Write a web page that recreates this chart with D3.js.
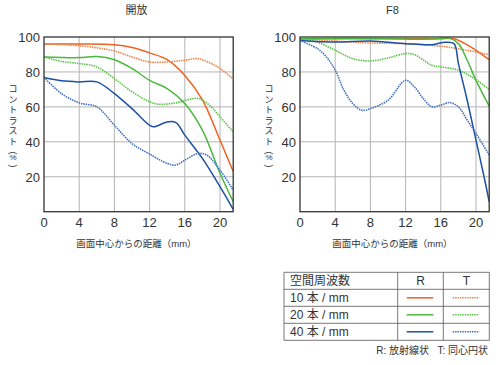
<!DOCTYPE html>
<html>
<head>
<meta charset="utf-8">
<script src="https://cdn.jsdelivr.net/npm/d3@7"></script>
<style>
  body { margin: 0; background: #fff; }
  text { font-family: "Liberation Sans", Arial, "Noto Sans CJK JP", sans-serif; fill: #333; }
</style>
</head>
<body>
<div id="chart"></div>
<script>
// distance from image centre (mm) and contrast (%)
const xTicks = [0, 4, 8, 12, 16, 20];
const yTicks = [20, 40, 60, 80, 100];

// 開放 (wide open)
const open10R = [[0,96],[4,96],[8,95.6],[10,94],[12,90.9],[14,87],[16,78],[18,64],[20,41],[21.5,23]];
const open10T = [[0,96],[4,95],[8,92],[10,88.6],[12,85.7],[14,85.7],[16,86.7],[17.5,87.6],[19,84.8],[20,82],[21.5,76]];
const open20R = [[0,88.6],[4,88.2],[6,88.8],[8,87],[10,82],[12,75.2],[14,70.5],[16,62],[18,46.7],[20,22],[21.5,5.7]];
const open20T = [[0,88.6],[2,86],[4,84.8],[6,82.9],[8,76.2],[10,68.6],[12,62.9],[13,61.5],[15,62.3],[17.5,64.8],[19,60],[20,54.3],[21.5,45.7]];
const open40R = [[0,76.8],[2,74.9],[4,74.3],[6,74.3],[8,67.6],[10,59],[12,49.5],[12.5,48.6],[14,51.4],[15,51],[16,43.8],[18,30.5],[20,14.3],[21.5,1.3]];
const open40T = [[0,76.8],[2,67.6],[4,62.3],[6,60],[8,49.5],[10,39],[12,33],[14,27.6],[15,26.7],[16,29.5],[17.5,33.3],[18.5,32.4],[20,23.8],[21.5,12.4]];

// F8
const f8_10R = [[0,99],[4,99.2],[8,99.2],[12,99],[16,99],[17.5,99],[19,95.5],[20,92.4],[21.5,87]];
const f8_10T = [[0,99],[4,97.7],[8,96.6],[12,96.2],[16,94.7],[18,93.3],[20,91.4],[21.5,89.9]];
const f8_20R = [[0,99],[4,99],[8,99],[12,98.8],[15,98.8],[17,99.2],[18,96.2],[19,86.7],[20,75.2],[21.5,60.4]];
const f8_20T = [[0,99],[2,97],[4,92.4],[6,87.6],[8,86.3],[10,88],[12,90.5],[13,89.9],[15,83.8],[16,82.9],[18,81],[20,75.6],[21.5,69.9]];
const f8_40R = [[0,98],[4,97.1],[8,97.7],[12,96.2],[15,95.6],[16.5,97],[17.5,96.2],[18,84.8],[19,63.8],[20,41],[21,18],[21.5,5.7]];
const f8_40T = [[0,98],[2,93.3],[3,88.6],[4,81],[5,69.5],[6,61.9],[7,58.1],[8,59],[10,63.8],[12,75.2],[13,71.4],[14,64.8],[15,60],[16,61],[17,62.5],[18,60],[19,52.4],[20,44.8],[21.5,32.4]];

const legendRows = ["10 本 / mm", "20 本 / mm", "40 本 / mm"];

const solidColors = ["#f0621e", "#4cb83c", "#1d4fa3"];
const dotColors = ["#f0844a", "#5cc24a", "#3f70c2"];

const svg = d3.select("#chart").append("svg")
    .attr("width", 500)
    .attr("height", 365);

const panels = [
    {title: "開放", left: 44, series: [open10R, open10T, open20R, open20T, open40R, open40T]},
    {title: "F8", left: 300, series: [f8_10R, f8_10T, f8_20R, f8_20T, f8_40R, f8_40T]}
];

const plotTop = 37, plotBottom = 211.7;

panels.forEach(function(p) {
    const x = d3.scaleLinear().domain([0, 21.5]).range([p.left, p.left + 8.8 * 21.5]);
    const y = d3.scaleLinear().domain([0, 100]).range([plotBottom, plotTop]);
    const g = svg.append("g");

    g.append("text")
        .attr("x", x(10.5)).attr("y", 14)
        .attr("text-anchor", "middle")
        .style("font-size", "11px")
        .text(p.title);

    // grid
    g.selectAll(".vg").data(xTicks.filter(d => d > 0)).enter().append("line")
        .attr("x1", d => x(d)).attr("x2", d => x(d))
        .attr("y1", plotTop).attr("y2", plotBottom)
        .attr("stroke", "#b4b4b4").attr("stroke-width", 1);
    g.selectAll(".hg").data(yTicks.filter(d => d < 100)).enter().append("line")
        .attr("x1", x(0)).attr("x2", x(21.5))
        .attr("y1", d => y(d)).attr("y2", d => y(d))
        .attr("stroke", "#b4b4b4").attr("stroke-width", 1);

    const line = d3.line()
        .x(d => x(d[0])).y(d => y(d[1]))
        .curve(d3.curveCatmullRom.alpha(0.5));

    const clipId = "clip" + p.left;
    g.append("clipPath").attr("id", clipId).append("rect")
        .attr("x", x(0)).attr("y", plotTop - 2)
        .attr("width", x(21.5) - x(0)).attr("height", plotBottom - plotTop + 2);

    p.series.forEach(function(s, i) {
        const k = Math.floor(i / 2), dotted = i % 2 === 1;
        g.append("path")
            .datum(s)
            .attr("clip-path", `url(#${clipId})`)
            .attr("fill", "none")
            .attr("stroke", dotted ? dotColors[k] : solidColors[k])
            .attr("stroke-width", dotted ? 1.6 : 1.5)
            .attr("stroke-dasharray", dotted ? "1.5,0.9" : null)
            .attr("d", line);
    });

    // frame
    g.append("rect")
        .attr("x", x(0)).attr("y", plotTop)
        .attr("width", x(21.5) - x(0)).attr("height", plotBottom - plotTop)
        .attr("fill", "none").attr("stroke", "#333").attr("stroke-width", 1.3);

    g.selectAll(".yt").data(yTicks).enter().append("text")
        .attr("x", x(0) - 4).attr("y", d => y(d) + 5)
        .attr("text-anchor", "end")
        .style("font-size", "13px")
        .text(d => d);
    g.selectAll(".xt").data(xTicks).enter().append("text")
        .attr("x", d => x(d)).attr("y", 227)
        .attr("text-anchor", "middle")
        .style("font-size", "13px")
        .text(d => d);

    g.append("text")
        .attr("x", x(10.5)).attr("y", 247)
        .attr("text-anchor", "middle")
        .style("font-size", "9.5px")
        .text("画面中心からの距離（mm）");

    // vertical label
    const chars = ["コ", "ン", "ト", "ラ", "ス", "ト"];
    const lx = p.left - 31;
    chars.forEach(function(c, i) {
        g.append("text")
            .attr("x", lx).attr("y", 92 + i * 10.5)
            .attr("text-anchor", "middle")
            .style("font-size", "9px")
            .text(c);
    });
    g.append("text")
        .attr("transform", `translate(${lx - 3},${153}) rotate(90)`)
        .attr("text-anchor", "middle")
        .style("font-size", "9px")
        .text("(");
    g.append("text")
        .attr("x", lx).attr("y", 160)
        .attr("text-anchor", "middle")
        .style("font-size", "8px")
        .text("%");
    g.append("text")
        .attr("transform", `translate(${lx - 3},${166}) rotate(90)`)
        .attr("text-anchor", "middle")
        .style("font-size", "9px")
        .text(")");
});

// legend table
const lg = svg.append("g");
const tl = 284, tr = 489.3, c1 = 397.7, c2 = 443.3, tt = 272.3, rh = 17;
const rowY = d3.range(5).map(i => tt + i * rh);
lg.selectAll(".hr").data(rowY).enter().append("line")
    .attr("x1", tl).attr("x2", tr)
    .attr("y1", d => d).attr("y2", d => d)
    .attr("stroke", "#555").attr("stroke-width", 0.8);
[tl, c1, c2, tr].forEach(function(cx) {
    lg.append("line")
        .attr("x1", cx).attr("x2", cx)
        .attr("y1", tt).attr("y2", tt + 4 * rh)
        .attr("stroke", "#555").attr("stroke-width", 0.8);
});
lg.append("text").attr("x", 290).attr("y", tt + 13).style("font-size", "12px").text("空間周波数");
lg.append("text").attr("x", (c1 + c2) / 2).attr("y", tt + 13).attr("text-anchor", "middle").style("font-size", "12px").text("R");
lg.append("text").attr("x", (c2 + tr) / 2).attr("y", tt + 13).attr("text-anchor", "middle").style("font-size", "12px").text("T");
legendRows.forEach(function(r, i) {
    const cy = tt + (i + 1) * rh + rh / 2;
    lg.append("text").attr("x", 290).attr("y", cy + 4.5).style("font-size", "12px").text(r);
    lg.append("line").attr("x1", 406.7).attr("x2", 433.3).attr("y1", cy).attr("y2", cy)
        .attr("stroke", solidColors[i]).attr("stroke-width", 1.5);
    lg.append("line").attr("x1", 452.7).attr("x2", 479.3).attr("y1", cy).attr("y2", cy)
        .attr("stroke", dotColors[i]).attr("stroke-width", 1.6).attr("stroke-dasharray", "1.5,0.9");
});
lg.append("text").attr("x", 488).attr("y", 354).attr("text-anchor", "end")
    .style("font-size", "10px").style("white-space", "pre")
    .text("R: 放射線状   T: 同心円状");
</script>
</body>
</html>
